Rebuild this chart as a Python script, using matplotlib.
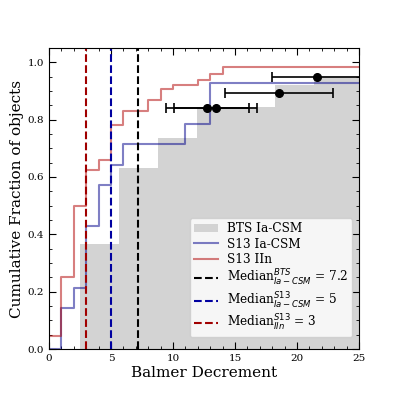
import matplotlib
matplotlib.use("Agg")
import matplotlib.pyplot as plt
import numpy as np
from matplotlib.ticker import MultipleLocator

plt.rcParams['font.family'] = ['DejaVu Serif']
plt.rcParams['mathtext.fontset'] = 'dejavusans'

# BTS Ia-CSM cumulative histogram
bts_edges = [2.5, 5.65, 8.8, 11.95, 15.1, 18.2, 21.35, 25.0]
bts_cum = [0.368, 0.632, 0.737, 0.845, 0.845, 0.922, 0.952]

# S13 Ia-CSM cumulative step
s13ia_x = [0, 1, 2, 3, 4, 5, 6, 11, 13, 25]
s13ia_y = [0.0, 0.143, 0.214, 0.429, 0.571, 0.643, 0.714, 0.786, 0.929, 0.929]

# S13 IIn cumulative step
s13iin_x = [0, 1, 2, 3, 4, 5, 6, 8, 9, 10, 12, 13, 14, 25]
s13iin_y = [0.045, 0.25, 0.50, 0.626, 0.659, 0.78, 0.83, 0.867, 0.905, 0.922,
            0.937, 0.96, 0.985, 0.985]

# error bar points
pt_x = [12.75, 13.45, 18.55, 21.64]
pt_y = [0.842, 0.842, 0.893, 0.947]
pt_xerr = [3.35, 3.35, 4.35, 3.64]

med_bts = 7.2
med_s13ia = 5
med_s13iin = 3

fig = plt.figure(figsize=(3.99, 3.99), dpi=100)
ax = fig.add_axes([0.123, 0.125, 0.777, 0.755])

h_bts = ax.stairs(bts_cum, bts_edges, fill=True, color='lightgray', label='BTS Ia-CSM')
h_ia, = ax.step(s13ia_x, s13ia_y, where='post', color='darkblue', alpha=0.5, lw=1.5, label='S13 Ia-CSM')
h_iin, = ax.step(s13iin_x, s13iin_y, where='post', color='#b00000', alpha=0.5, lw=1.5, label='S13 IIn')

ax.errorbar(pt_x, pt_y, xerr=pt_xerr, fmt='o', color='black', markersize=5.5,
            capsize=3.5, elinewidth=1.2, capthick=1.2)

h_m1 = ax.axvline(med_bts, color='black', ls='--', lw=1.5,
                  label=r'Median$^{BTS}_{Ia-CSM}$ = ' + f'{med_bts}')
h_m2 = ax.axvline(med_s13ia, color='#0000a0', ls='--', lw=1.5,
                  label=r'Median$^{S13}_{Ia-CSM}$ = ' + f'{med_s13ia}')
h_m3 = ax.axvline(med_s13iin, color='#a00000', ls='--', lw=1.5,
                  label=r'Median$^{S13}_{IIn}$ = ' + f'{med_s13iin}')

ax.set_xlim(0, 25)
ax.set_ylim(0, 1.05)
ax.xaxis.set_major_locator(MultipleLocator(5))
ax.xaxis.set_minor_locator(MultipleLocator(1))
ax.yaxis.set_major_locator(MultipleLocator(0.2))
ax.yaxis.set_minor_locator(MultipleLocator(0.05))
ax.tick_params(which='both', direction='in', top=True, right=True, labelsize=7.5)
ax.tick_params(which='major', length=5)
ax.tick_params(which='minor', length=2.5)

ax.set_xlabel('Balmer Decrement', fontsize=11, labelpad=2)
ax.set_ylabel('Cumulative Fraction of objects', fontsize=11, labelpad=3)

ax.legend(handles=[h_bts, h_ia, h_iin, h_m1, h_m2, h_m3], loc='lower right', fontsize=8.7,
          labelspacing=0.2, borderaxespad=0, bbox_to_anchor=(1 - 7/310, 12/301),
          handlelength=2.0, borderpad=0.3)

fig.savefig('out.png', dpi=100)
